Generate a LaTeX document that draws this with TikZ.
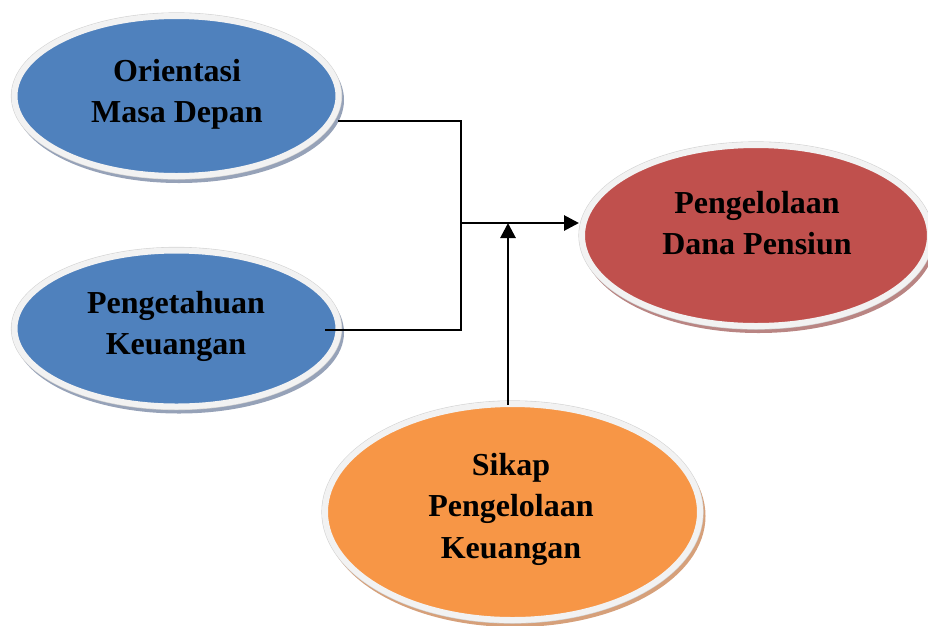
\documentclass[tikz,border=0pt]{standalone}
\usepackage{fontspec}
\setmainfont{Liberation Serif}
\usetikzlibrary{arrows.meta,shapes.geometric}
\definecolor{blueF}{HTML}{4F81BD}
\definecolor{redF}{HTML}{C0504D}
\definecolor{orangeF}{HTML}{F79646}
\definecolor{rimF}{HTML}{F2F2F2}
\definecolor{rimE}{HTML}{D4D4D4}
\definecolor{blueS}{HTML}{96A2B8}
\definecolor{redS}{HTML}{B98583}
\definecolor{orangeS}{HTML}{D6A07A}
\tikzset{
  ellbox/.style 2 args={ellipse, inner sep=0pt, fill=#1,
    draw=rimF, line width=6pt,
    preaction={draw=#2, line width=6pt, transform canvas={shift={(2.5pt,-4pt)}}},
    preaction={draw=rimE, line width=7.2pt}},
  txt/.style={font=\fontsize{32}{41.5}\selectfont\bfseries, align=center,
    inner sep=0pt, anchor=north, text=black},
  conn/.style={line width=2.8pt, draw=black},
  arr/.style={conn, -{Triangle[length=15pt,width=15pt]}}
}
\begin{document}
\begin{tikzpicture}[x=1pt,y=-1pt]
\useasboundingbox (0,0) rectangle (928,625);
% ellipses
\node[ellbox={blueF}{blueS}, minimum width=324pt, minimum height=160pt] (ori) at (176.5,96) {};
\node[ellbox={blueF}{blueS}, minimum width=324pt, minimum height=156pt] (pgt) at (176.5,328.5) {};
\node[ellbox={redF}{redS}, minimum width=348pt, minimum height=181pt] (dana) at (756,235.5) {};
\node[ellbox={orangeF}{orangeS}, minimum width=375pt, minimum height=216pt] (sik) at (512.5,512) {};
% texts
\node[txt] (ori-t) at (177,59) {Orientasi\\Masa Depan};
\node[txt] (pgt-t) at (176,291) {Pengetahuan\\Keuangan};
\node[txt] (dana-t) at (757,191) {Pengelolaan\\Dana Pensiun};
\node[txt] (sik-t) at (511,453) {Sikap\\Pengelolaan\\Keuangan};
% connectors
\coordinate (a1) at (338,121);
\coordinate (a2) at (325,330);
\coordinate (j) at (461,223);
\coordinate (u0) at (508,405);
\draw[conn] (a1) -| (j);
\draw[conn] (a2) -| (j);
\draw[arr] (j) -- (j -| dana.west);
\draw[arr] (u0) -- (u0 |- j);
\end{tikzpicture}
\end{document}
